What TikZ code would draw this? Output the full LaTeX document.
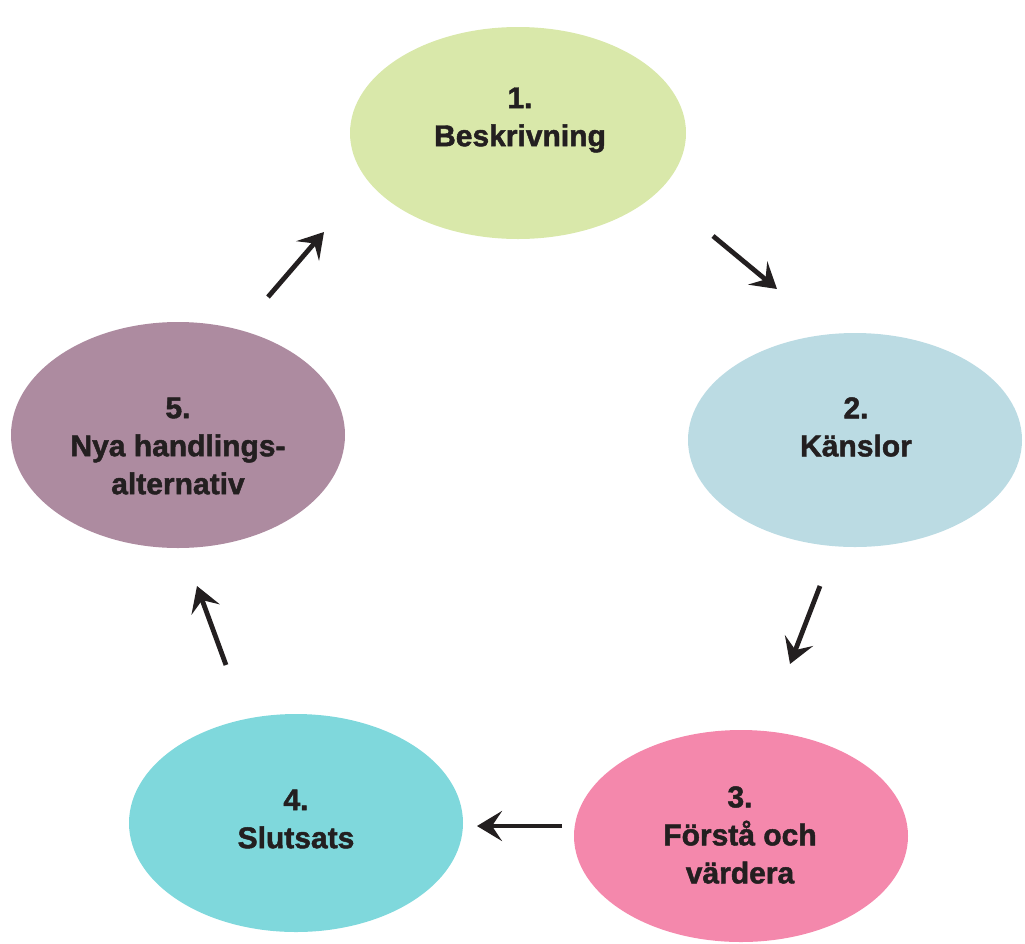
\documentclass[tikz,border=0pt]{standalone}
\usepackage{fontspec}
\setmainfont[BoldFeatures={FakeBold=1.6}]{Liberation Sans}
\usetikzlibrary{shapes.geometric,arrows.meta}
\definecolor{cgreen}{HTML}{D9E8AA}
\definecolor{cblue}{HTML}{BBDBE3}
\definecolor{cpink}{HTML}{F488AC}
\definecolor{cteal}{HTML}{7FD8DC}
\definecolor{cmauve}{HTML}{AD8BA0}
\definecolor{ink}{HTML}{231F20}
\tikzset{
  blob/.style={ellipse, inner sep=0pt, draw=none},
  lbl/.style={align=center, inner sep=0pt, text=ink,
    font=\fontsize{30}{38}\selectfont\bfseries},
  flow/.style={draw=ink, line width=4.8pt,
    -{Stealth[length=25pt, width=30pt, inset=10pt]}}
}
\begin{document}
\begin{tikzpicture}[x=1pt,y=-1pt]
\useasboundingbox (0,0) rectangle (1025,943);
\node[blob, fill=cgreen, minimum width=336pt, minimum height=212pt] (e1) at (518,133) {};
\node[blob, fill=cblue, minimum width=334pt, minimum height=214pt] (e2) at (855,440) {};
\node[blob, fill=cpink, minimum width=334pt, minimum height=212pt] (e3) at (741,836) {};
\node[blob, fill=cteal, minimum width=334pt, minimum height=218pt] (e4) at (296,823) {};
\node[blob, fill=cmauve, minimum width=334pt, minimum height=226pt] (e5) at (178,435) {};

\node[lbl] (t1) at (520,120) {1.\\Beskrivning};
\node[lbl] (t2) at (856,427) {2.\\Känslor};
\node[lbl] (t3) at (740,835) {3.\\Förstå och\\värdera};
\node[lbl] (t4) at (296,819) {4.\\Slutsats};
\node[lbl] (t5) at (178,446) {5.\\Nya handlings-\\alternativ};

\coordinate (a1s) at (713,236); \coordinate (a1e) at (777,289);
\coordinate (a2s) at (820,586); \coordinate (a2e) at (790,664);
\coordinate (a3s) at (562,826); \coordinate (a3e) at (477,826);
\coordinate (a4s) at (226,665); \coordinate (a4e) at (197,586);
\coordinate (a5s) at (268,297); \coordinate (a5e) at (324,232);

\draw[flow] (a1s) -- (a1e);
\draw[flow] (a2s) -- (a2e);
\draw[flow] (a3s) -- (a3e);
\draw[flow] (a4s) -- (a4e);
\draw[flow] (a5s) -- (a5e);
\end{tikzpicture}
\end{document}
